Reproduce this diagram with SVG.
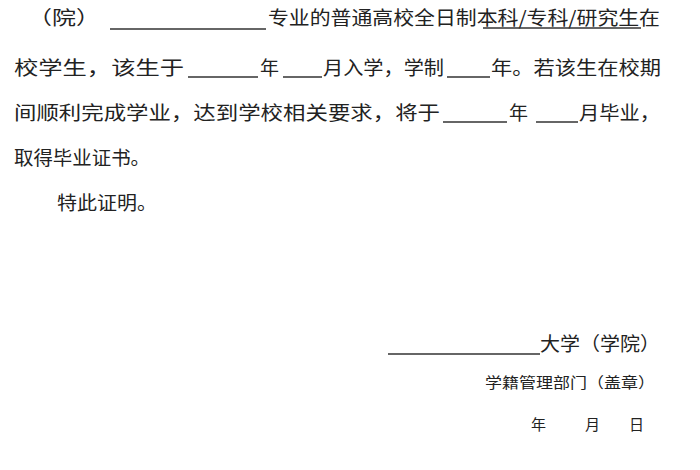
<svg xmlns="http://www.w3.org/2000/svg" width="700" height="470" viewBox="0 0 700 470">
<style>
text{font-family:"Noto Sans CJK SC","Noto Sans",sans-serif;fill:#222;font-size:19px}
.s{font-size:15px}
.u{stroke:#333;stroke-width:1.3}
</style>
<rect width="700" height="470" fill="#fff"/>
<text x="28" y="25" textLength="72" lengthAdjust="spacingAndGlyphs">（院）</text>
<line class="u" x1="110" y1="29" x2="266" y2="29"/>
<text x="268" y="25" textLength="392" lengthAdjust="spacingAndGlyphs">专业的普通高校全日制本科/专科/研究生在</text>
<line class="u" x1="483" y1="28" x2="641" y2="28"/>
<text x="14" y="75" textLength="170" lengthAdjust="spacingAndGlyphs">校学生，该生于</text>
<line class="u" x1="188" y1="77" x2="258" y2="77"/>
<text x="260" y="75">年</text>
<line class="u" x1="283" y1="77" x2="322" y2="77"/>
<text x="323" y="75" textLength="121" lengthAdjust="spacingAndGlyphs">月入学，学制</text>
<line class="u" x1="447" y1="77" x2="490" y2="77"/>
<text x="491" y="75" textLength="170" lengthAdjust="spacingAndGlyphs">年。若该生在校期</text>
<text x="14" y="120" textLength="426" lengthAdjust="spacingAndGlyphs">间顺利完成学业，达到学校相关要求，将于</text>
<line class="u" x1="443" y1="122" x2="507" y2="122"/>
<text x="509" y="120">年</text>
<line class="u" x1="536" y1="122" x2="578" y2="122"/>
<text x="579" y="120" textLength="81" lengthAdjust="spacingAndGlyphs">月毕业，</text>
<text x="14" y="165" textLength="136" lengthAdjust="spacingAndGlyphs">取得毕业证书。</text>
<text x="57" y="210" textLength="100" lengthAdjust="spacingAndGlyphs">特此证明。</text>
<line class="u" x1="388" y1="354" x2="540" y2="354"/>
<text x="540" y="351" textLength="120" lengthAdjust="spacingAndGlyphs">大学（学院）</text>
<text class="s" x="485" y="388" textLength="170" lengthAdjust="spacingAndGlyphs">学籍管理部门（盖章）</text>
<text class="s" x="531" y="430">年</text>
<text class="s" x="585" y="430">月</text>
<text class="s" x="629" y="430">日</text>
</svg>
